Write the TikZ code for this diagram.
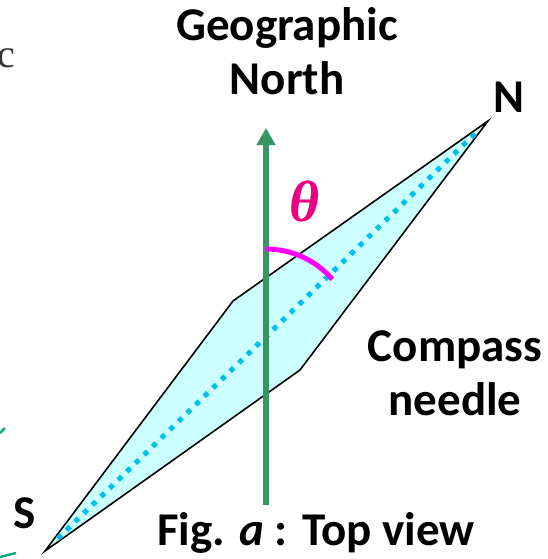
\documentclass[tikz,border=0pt]{standalone}
\usepackage{fontspec}
\setmainfont{Carlito}
\newfontfamily\cutserif{Liberation Serif}
\usetikzlibrary{arrows.meta}
\definecolor{needlefill}{RGB}{204,255,255}
\definecolor{axisblue}{RGB}{0,190,240}
\definecolor{northgreen}{RGB}{56,150,100}
\definecolor{anglepink}{RGB}{255,0,255}
\definecolor{thetapink}{RGB}{235,0,130}
\definecolor{edgegreen}{RGB}{20,170,130}
\tikzset{
  labeltext/.style={font=\bfseries\fontsize{47}{54}\selectfont, align=center, inner sep=0pt},
  edgemark/.style={edgegreen, line width=2.5pt},
}
\begin{document}
\begin{tikzpicture}[x=1pt,y=-1pt]
    \useasboundingbox (0,0) rectangle (548,559);

    % Needle
    \coordinate (S) at (45,551);
    \coordinate (W) at (233,301);
    \coordinate (N) at (488,121);
    \coordinate (E) at (300,370);
    \draw[fill=needlefill, line width=1.6pt] (S) -- (W) -- (N) -- (E) -- cycle;
    \draw[axisblue, line width=5pt, dash pattern=on 5pt off 7pt,
          shorten <=18pt, shorten >=14pt] (S) -- (N);

    % Geographic north arrow
    \coordinate (base) at (266,505);
    \coordinate (top) at (266,128);
    \draw[northgreen, line width=6pt, -{Triangle[width=18pt,length=17pt]}] (base) -- (top);

    % Angle
    \coordinate (pivot) at (266,337);
    \draw[anglepink, line width=5pt] (pivot) ++(0,-88)
        arc[start angle=90, end angle=41, radius=88pt];
    \node[thetapink, font=\cutserif\bfseries\itshape\fontsize{58}{60}\selectfont] (theta) at (305,202) {θ};

    % Labels
    \node[labeltext, anchor=north] (geo) at (287,7) {Geographic\\North};
    \node[labeltext] (ntext) at (509,97) {N};
    \node[labeltext] (stext) at (25,513) {S};
    \node[labeltext] (compass) at (455,373) {Compass\\needle};
    \node[labeltext, anchor=base] (caption) at (316,545) {Fig. \textit{a} : Top view};

    % Cut-off bits at the left edge
    \node[black!80, font=\cutserif\fontsize{40}{40}\selectfont, anchor=base west, inner sep=0pt] (cut) at (-3,68) {c};
    \coordinate (m1a) at (0,433);
    \coordinate (m1b) at (5,428);
    \coordinate (m2a) at (0,557);
    \coordinate (m2b) at (16,553);
    \draw[edgemark] (m1a) -- (m1b);
    \draw[edgemark] (m2a) -- (m2b);
\end{tikzpicture}
\end{document}
